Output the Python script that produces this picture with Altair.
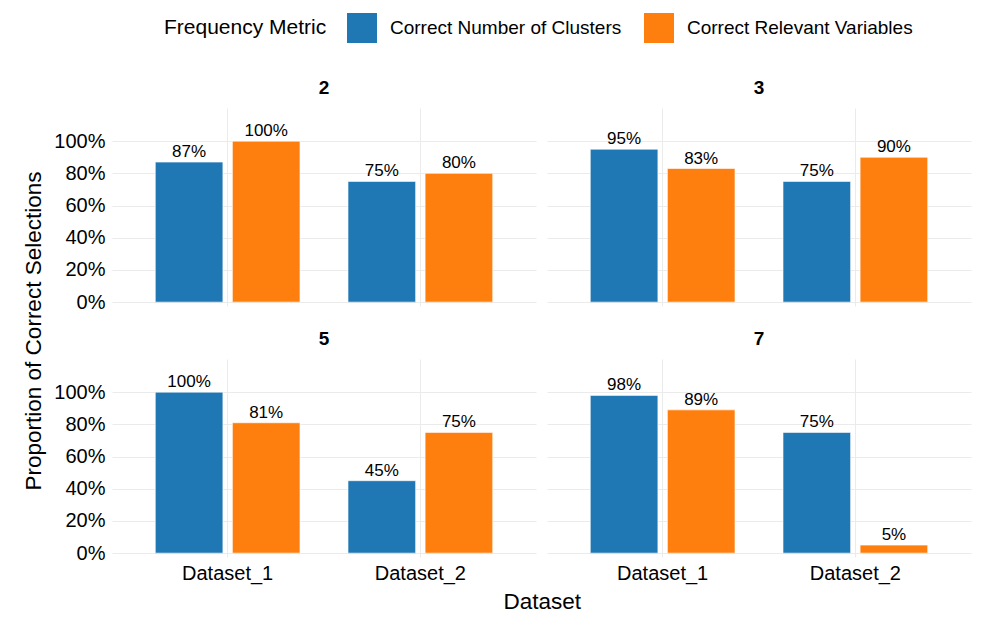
import altair as alt
import pandas as pd

clusters = ["2", "2", "3", "3", "5", "5", "7", "7"]
datasets = ["Dataset_1", "Dataset_2"] * 4
metrics = ["Correct Number of Clusters", "Correct Relevant Variables"]
num_clusters_correct = [0.87, 0.75, 0.95, 0.75, 1.00, 0.45, 0.98, 0.75]
relevant_vars_correct = [1.00, 0.80, 0.83, 0.90, 0.81, 0.75, 0.89, 0.05]

rows = []
for k, d, a, b in zip(clusters, datasets, num_clusters_correct, relevant_vars_correct):
    rows.append({"K": k, "Dataset": d, "Metric": metrics[0], "Value": a})
    rows.append({"K": k, "Dataset": d, "Metric": metrics[1], "Value": b})
df = pd.DataFrame(rows)

FONT = "Liberation Sans"
GRID = "#EBEBEB"

base = alt.Chart(df).encode(
    x=alt.X(
        "Dataset:N",
        title=None,
        scale=alt.Scale(paddingInner=0.2, paddingOuter=0.2),
        axis=alt.Axis(labelAngle=0, grid=True, bandPosition=0.5, labelPadding=6,
                      labelFontSize=20, labelColor="black"),
    ),
    xOffset=alt.XOffset("Metric:N", sort=metrics,
                        scale=alt.Scale(paddingInner=0.123, paddingOuter=0.0615)),
    y=alt.Y(
        "Value:Q",
        title=None,
        scale=alt.Scale(domain=[-0.024, 1.206], nice=False, zero=False),
        axis=alt.Axis(format=".0%", values=[0, 0.2, 0.4, 0.6, 0.8, 1.0], labelPadding=7,
                      labelFontSize=20, labelColor="black"),
    ),
)

bars = base.mark_bar(stroke="white", strokeWidth=0.6).encode(
    color=alt.Color(
        "Metric:N",
        sort=metrics,
        scale=alt.Scale(domain=metrics, range=["#1F77B4", "#FF7F0E"]),
        legend=alt.Legend(
            title="Frequency Metric",
            orient="none",
            legendX=52,
            legendY=-95,
            direction="horizontal",
            titleOrient="left",
        ),
    )
)

labels = base.mark_text(baseline="alphabetic", dy=-5, fontSize=17, font=FONT, color="black").encode(
    text=alt.Text("Value:Q", format=".0%")
)

inner = (
    alt.layer(bars, labels)
    .properties(width=424, height=198)
    .facet(
        facet=alt.Facet("K:N", title=None,
                        header=alt.Header(labelFontSize=19, labelFontWeight="bold", labelColor="black",
                                          labelFont=FONT, labelPadding=10)),
        columns=2,
        spacing={"row": 24, "column": 11},
    )
    .properties(title=alt.TitleParams("Proportion of Correct Selections", orient="left", anchor="middle",
                                      fontSize=22.5, fontWeight="normal", font=FONT, color="black", offset=8))
)

chart = (
    alt.vconcat(inner)
    .properties(
        title=alt.TitleParams("Dataset", orient="bottom", anchor="middle", fontSize=22.5,
                              fontWeight="normal", font=FONT, color="black", offset=8, dx=45),
        padding={"left": 15, "top": 5, "right": 5, "bottom": 5},
    )
    .configure(font=FONT)
    .configure_view(stroke=None)
    .configure_axis(domain=False, ticks=False, gridColor=GRID, gridWidth=1, labelFont=FONT)
    .configure_legend(
        titleFontSize=21, titleFontWeight="normal", titleColor="black", titleFont=FONT,
        labelFontSize=19, labelColor="black", labelFont=FONT, labelLimit=400,
        symbolType="square", symbolSize=900, symbolStrokeWidth=0, symbolOpacity=1,
        labelOffset=13, columnPadding=22, titlePadding=20,
    )
)

chart.save("out.html", embed_options={"renderer": "svg", "actions": False})
